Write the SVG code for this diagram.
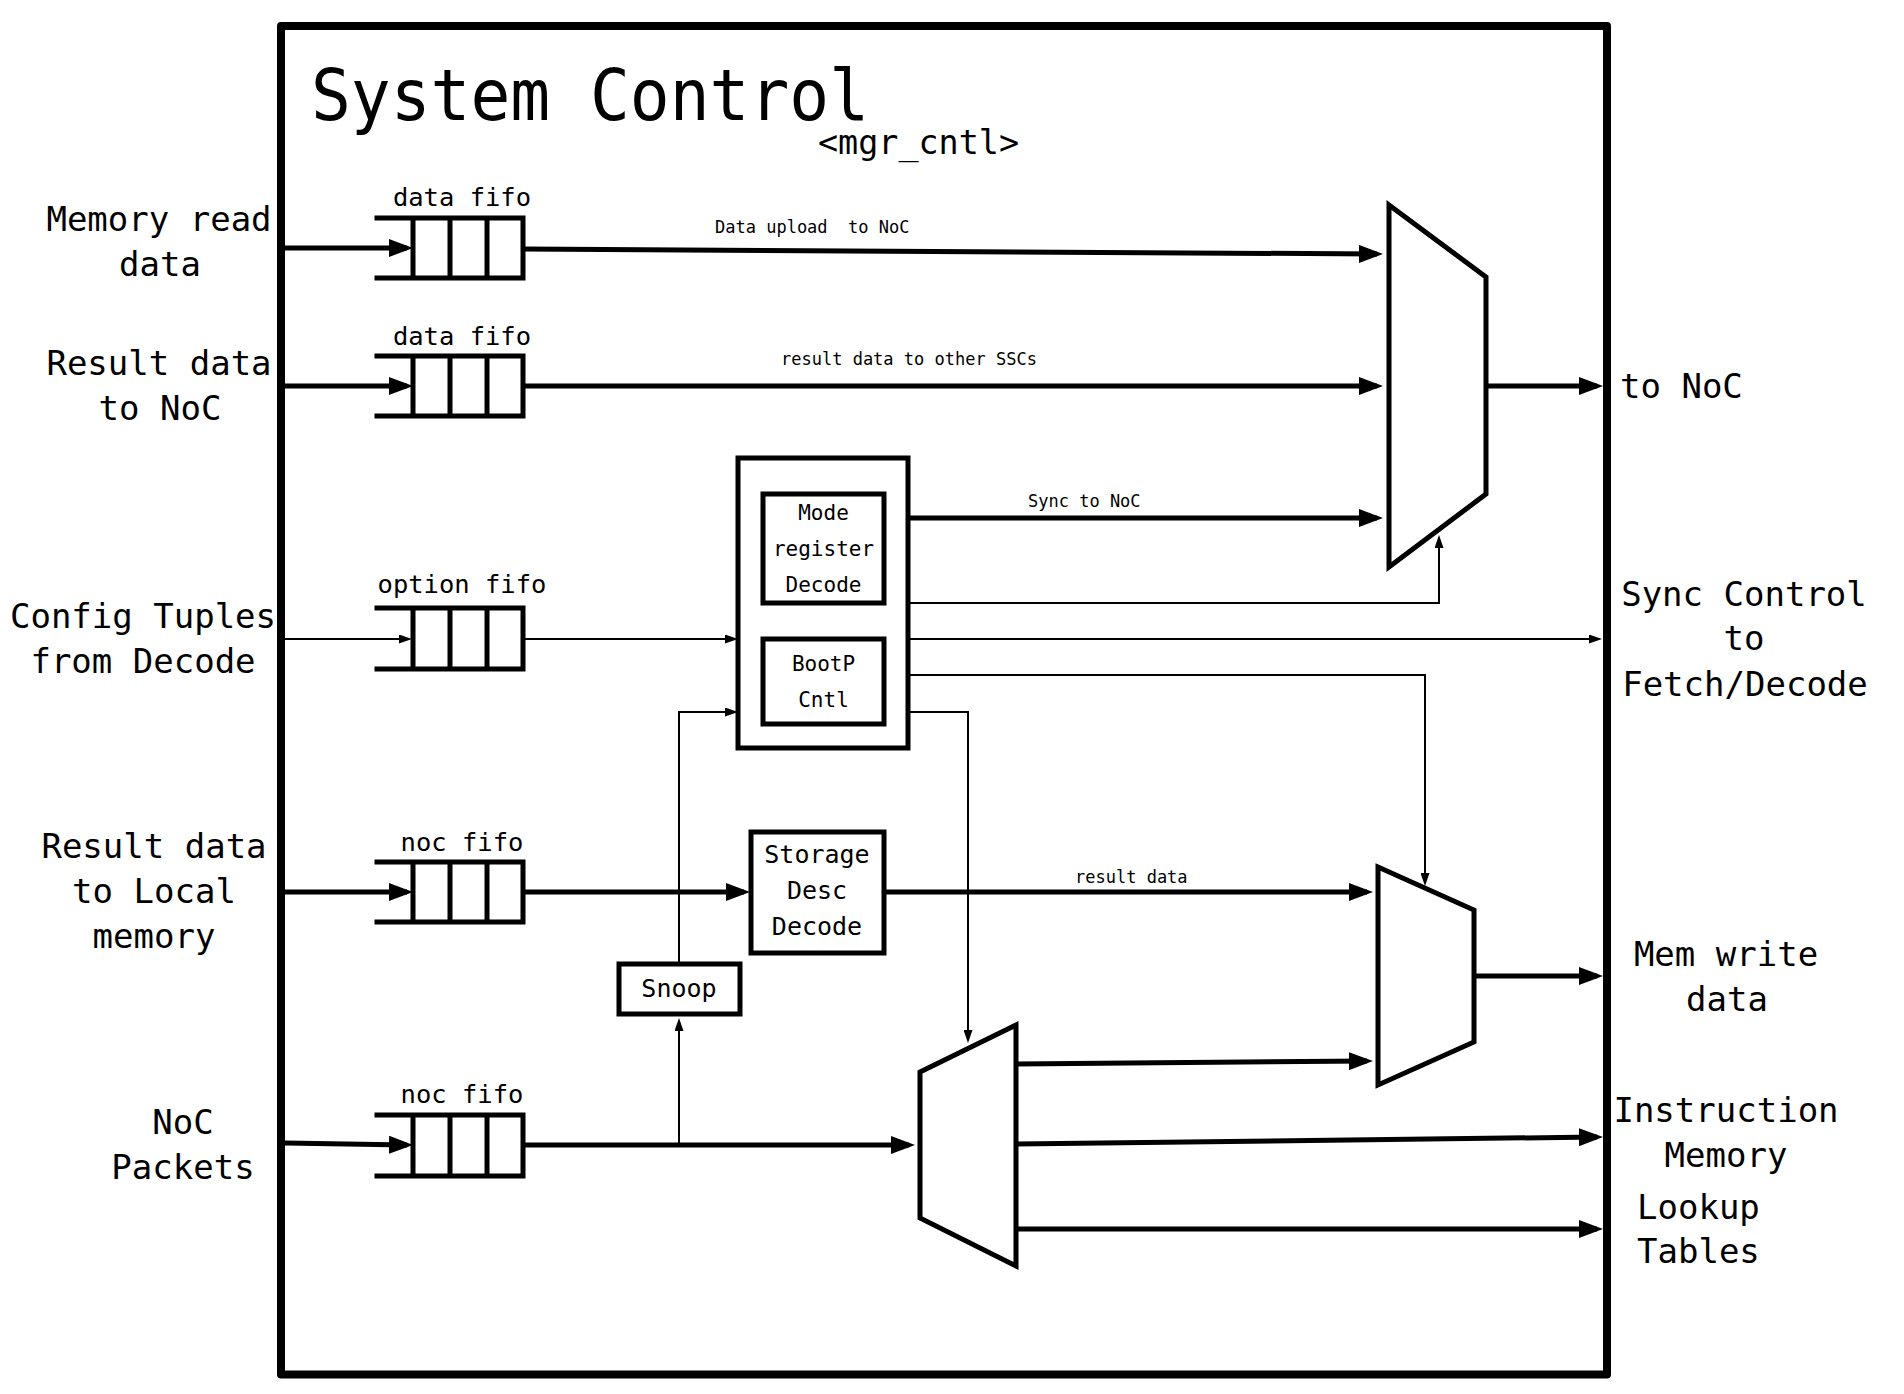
<svg xmlns="http://www.w3.org/2000/svg" width="1904" height="1394" viewBox="0 0 1904 1394">
<defs>
<marker id="ah" markerUnits="userSpaceOnUse" markerWidth="24" markerHeight="18" viewBox="0 0 24 18" refX="18" refY="9" orient="auto"><path d="M0,0 L24,9 L0,18 z" fill="#000"/></marker>
<marker id="ahs" markerUnits="userSpaceOnUse" markerWidth="13" markerHeight="9" viewBox="0 0 13 9" refX="10" refY="4.5" orient="auto"><path d="M0,0 L13,4.5 L0,9 z" fill="#000"/></marker>
</defs>
<style>
text{font-family:"DejaVu Sans Mono","Liberation Mono",monospace;fill:#000}
.title{font-size:72px}
.io{font-size:34px}
.ff{font-size:25.5px}
.bx{font-size:25px}
.bs{font-size:21px}
.sm{font-size:17px}
.frame{fill:none;stroke:#000;stroke-width:8;stroke-linejoin:round}
.shape{fill:#fff;stroke:#000;stroke-width:5;stroke-linejoin:miter}
.fifo{fill:none;stroke:#000;stroke-width:5;stroke-linecap:square}
.thick{fill:none;stroke:#000;stroke-width:5;marker-end:url(#ah)}
.thin{fill:none;stroke:#000;stroke-width:2;marker-end:url(#ahs)}
</style>
<rect width="1904" height="1394" fill="#fff"/>
<g id="frame"><rect class="frame" x="281" y="26" width="1326" height="1348.5"/></g>
<g id="title">
<text class="title" x="311" y="120" textLength="558" lengthAdjust="spacingAndGlyphs">System Control</text>
<text class="io" x="818" y="154" textLength="201" lengthAdjust="spacingAndGlyphs">&lt;mgr_cntl&gt;</text>
</g>

<g id="connectors">
<path class="thick" d="M285,248 H407"/>
<path class="thick" d="M285,386 H407"/>
<path class="thin" d="M285,639 H409"/>
<path class="thick" d="M285,892 H407"/>
<path class="thick" d="M285,1143 L407,1145"/>
<path class="thick" d="M523,249 L1377,254"/>
<path class="thick" d="M523,386 H1377"/>
<path class="thin" d="M523,639 H735"/>
<path class="thick" d="M908,518 H1377"/>
<path class="thick" d="M1486,386 H1597"/>
<path class="thin" d="M908,603 H1439 V538"/>
<path class="thin" d="M908,639 H1599"/>
<path class="thin" d="M908,675 H1425 V883"/>
<path class="thin" d="M908,712 H968 V1040"/>
<path class="thin" d="M679,963 V712 H735"/>
<path class="thin" d="M679,1145 V1021"/>
<path class="thick" d="M523,892 H744"/>
<path class="thick" d="M884,892 H1367"/>
<path class="thick" d="M523,1145 H909"/>
<path class="thick" d="M1016,1064 L1367,1061"/>
<path class="thick" d="M1016,1144 L1597,1137"/>
<path class="thick" d="M1016,1229 H1597"/>
<path class="thick" d="M1474,976 H1597"/>
<text class="sm" x="715" y="233" xml:space="preserve">Data upload  to NoC</text>
<text class="sm" x="781" y="365">result data to other SSCs</text>
<text class="sm" x="1028" y="507">Sync to NoC</text>
<text class="sm" x="1075" y="883">result data</text>
</g>

<g id="fifo1">
<path class="fifo" d="M377,218 H523 V278 H377 M413,218 V278 M450,218 V278 M487,218 V278"/>
<text class="ff" x="462" y="206" text-anchor="middle">data fifo</text>
</g>
<g id="fifo2">
<path class="fifo" d="M377,356 H523 V416 H377 M413,356 V416 M450,356 V416 M487,356 V416"/>
<text class="ff" x="462" y="345" text-anchor="middle">data fifo</text>
</g>
<g id="fifo3">
<path class="fifo" d="M377,608 H523 V669 H377 M413,608 V669 M450,608 V669 M487,608 V669"/>
<text class="ff" x="462" y="593" text-anchor="middle">option fifo</text>
</g>
<g id="fifo4">
<path class="fifo" d="M377,862 H523 V922 H377 M413,862 V922 M450,862 V922 M487,862 V922"/>
<text class="ff" x="462" y="851" text-anchor="middle">noc fifo</text>
</g>
<g id="fifo5">
<path class="fifo" d="M377,1115 H523 V1176 H377 M413,1115 V1176 M450,1115 V1176 M487,1115 V1176"/>
<text class="ff" x="462" y="1103" text-anchor="middle">noc fifo</text>
</g>

<g id="mux1"><path class="shape" d="M1389,205 L1486,277 V494 L1389,567 Z"/></g>
<g id="mux2"><path class="shape" d="M1378,867 L1474,910 V1042 L1378,1085 Z"/></g>
<g id="mux3"><path class="shape" d="M920,1072 L1016,1025 V1266 L920,1218 Z"/></g>

<g id="ctrl">
<rect class="shape" x="738" y="458" width="170" height="290" stroke-width="4"/>
<g id="mode-reg">
<rect class="shape" x="763" y="494" width="121" height="109" stroke-width="4.5"/>
<text class="bs" x="823.5" y="520" text-anchor="middle">Mode</text>
<text class="bs" x="823.5" y="556" text-anchor="middle">register</text>
<text class="bs" x="823.5" y="592" text-anchor="middle">Decode</text>
</g>
<g id="bootp">
<rect class="shape" x="763" y="639" width="121" height="85" stroke-width="4.5"/>
<text class="bs" x="823.5" y="671" text-anchor="middle">BootP</text>
<text class="bs" x="823.5" y="707" text-anchor="middle">Cntl</text>
</g>
</g>

<g id="storage">
<rect class="shape" x="751" y="832" width="133" height="121" stroke-width="4"/>
<text class="bx" x="817" y="863" text-anchor="middle">Storage</text>
<text class="bx" x="817" y="899" text-anchor="middle">Desc</text>
<text class="bx" x="817" y="935" text-anchor="middle">Decode</text>
</g>
<g id="snoop">
<rect class="shape" x="619" y="964" width="121" height="50" stroke-width="4"/>
<text class="bx" x="679" y="997" text-anchor="middle">Snoop</text>
</g>

<g id="io-labels">
<text class="io" x="159" y="231" text-anchor="middle">Memory read</text>
<text class="io" x="160" y="276" text-anchor="middle">data</text>
<text class="io" x="159" y="375" text-anchor="middle">Result data</text>
<text class="io" x="160" y="420" text-anchor="middle">to NoC</text>
<text class="io" x="143" y="628" text-anchor="middle">Config Tuples</text>
<text class="io" x="143" y="673" text-anchor="middle">from Decode</text>
<text class="io" x="154" y="858" text-anchor="middle">Result data</text>
<text class="io" x="154" y="903" text-anchor="middle">to Local</text>
<text class="io" x="154" y="948" text-anchor="middle">memory</text>
<text class="io" x="183" y="1134" text-anchor="middle">NoC</text>
<text class="io" x="183" y="1179" text-anchor="middle">Packets</text>
<text class="io" x="1620" y="398">to NoC</text>
<text class="io" x="1744" y="606" text-anchor="middle">Sync Control</text>
<text class="io" x="1744" y="650" text-anchor="middle">to</text>
<text class="io" x="1745" y="696" text-anchor="middle">Fetch/Decode</text>
<text class="io" x="1726" y="966" text-anchor="middle">Mem write</text>
<text class="io" x="1727" y="1011" text-anchor="middle">data</text>
<text class="io" x="1726" y="1122" text-anchor="middle">Instruction</text>
<text class="io" x="1726" y="1167" text-anchor="middle">Memory</text>
<text class="io" x="1637" y="1219">Lookup</text>
<text class="io" x="1637" y="1263">Tables</text>
</g>
</svg>
